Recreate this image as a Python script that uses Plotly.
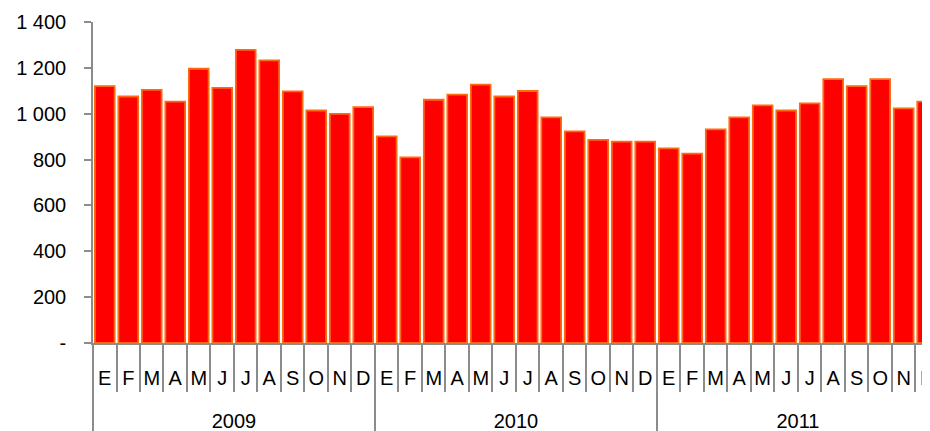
import plotly.graph_objects as go

years = ["2009", "2010", "2011"]
# zero-width space keeps repeated initials (Marzo/Mayo, Abril/Agosto, Junio/Julio) distinct
months = ["E", "F", "M", "A", "M\u200b", "J", "J\u200b", "A\u200b", "S", "O", "N", "D"]

values_2009 = [1120, 1075, 1104, 1053, 1196, 1113, 1278, 1233, 1097, 1014, 999, 1029]
values_2010 = [901, 810, 1061, 1083, 1127, 1075, 1099, 984, 923, 886, 878, 878]
values_2011 = [849, 826, 932, 984, 1036, 1014, 1045, 1151, 1120, 1151, 1023, 1053]

y_ticks = [0, 200, 400, 600, 800, 1000, 1200, 1400]
y_ticktext = ["-", "200", "400", "600", "800", "1 000", "1 200", "1 400"]

# a leading line break plus a small baseline shift drops the year row below the month row
x_outer = ["<br><sub><sub><sub><span style='font-size:20px'>" + y + "</span></sub></sub></sub>"
           for y in years for _ in months]
x_inner = months * len(years)
vals = values_2009 + values_2010 + values_2011

fig = go.Figure(go.Bar(
    x=[x_outer, x_inner],
    y=vals,
    marker=dict(color="#FF0000", line=dict(color="#FF6A10", width=1.8)),
    width=0.84,
))

font = dict(family="Liberation Sans, Arial, sans-serif", size=20, color="#000000")

# page body has an 8px default margin, so the figure is offset by 8px
fig.update_layout(
    width=922, height=423,
    margin=dict(l=85, r=0, t=14, b=88),
    paper_bgcolor="white", plot_bgcolor="white",
    showlegend=False,
    font=font,
    bargap=0.16,
)
fig.update_xaxes(
    type="multicategory",
    range=[-0.5, 35.12],
    dtick=1,
    tickangle=0,
    automargin=False,
    showline=True, linecolor="#8c8c8c", linewidth=1.5,
    ticks="outside", ticklen=47, tickcolor="#8c8c8c", tickwidth=1.5,
    tickson="boundaries",
    ticklabelstandoff=16,
    showdividers=True, dividercolor="#8c8c8c", dividerwidth=1.5,
    showgrid=False, zeroline=False,
    tickfont=font,
)
fig.update_yaxes(
    range=[0, 1400],
    automargin=False,
    tickvals=y_ticks, ticktext=y_ticktext,
    showline=True, linecolor="#8c8c8c", linewidth=1.5,
    ticks="outside", ticklen=7, tickcolor="#8c8c8c", tickwidth=1.5,
    showgrid=False, zeroline=False,
    tickfont=font,
    ticklabelstandoff=14,
)

fig.write_html("out.html")
